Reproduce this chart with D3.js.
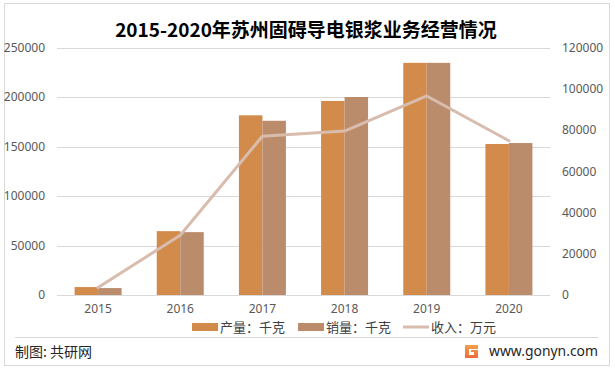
<!DOCTYPE html>
<html>
<head>
<meta charset="utf-8">
<script src="https://cdn.jsdelivr.net/npm/d3@7"></script>
<style>
  body { margin: 0; background: #fff; }
  svg { display: block; font-family: "Noto Sans CJK SC", "Noto Sans", sans-serif; }
</style>
</head>
<body>
<div id="chart"></div>
<script>
// data
const years = ["2015", "2016", "2017", "2018", "2019", "2020"];
const production = [8000, 64500, 181500, 196000, 234500, 152500];   // 产量：千克
const sales = [7000, 63500, 176000, 200000, 234500, 153500];         // 销量：千克
const revenue = [3600, 29000, 77000, 79500, 96500, 74800];           // 收入：万元
const leftTicks = [0, 50000, 100000, 150000, 200000, 250000];
const rightTicks = [0, 20000, 40000, 60000, 80000, 100000, 120000];

const W = 615, H = 371;
const plot = { left: 57, right: 550, top: 47.5, bottom: 295 };
const colors = { prod: "#d38b4c", sales: "#bb8c6c", line: "#d8bcad" };

const svg = d3.select("#chart").append("svg")
    .attr("width", W).attr("height", H);

// outer frame
svg.append("rect")
    .attr("x", 4.5).attr("y", 3.5)
    .attr("width", 605).attr("height", 362)
    .attr("fill", "#fff")
    .attr("stroke", "#d9d9d9");

const x = d3.scaleBand()
    .domain(years)
    .range([plot.left, plot.right])
    .paddingInner(0.428)
    .paddingOuter(0.214);

const xSub = d3.scaleBand()
    .domain(["prod", "sales"])
    .range([0, x.bandwidth()]);

const yLeft = d3.scaleLinear().domain([0, 250000]).range([plot.bottom, plot.top]);
const yRight = d3.scaleLinear().domain([0, 120000]).range([plot.bottom, plot.top]);

// gridlines
svg.append("g")
    .selectAll("line")
    .data(leftTicks)
    .join("line")
    .attr("x1", plot.left).attr("x2", plot.right)
    .attr("y1", (d) => Math.round(yLeft(d)) + 0.5)
    .attr("y2", (d) => Math.round(yLeft(d)) + 0.5)
    .attr("stroke", "#d9d9d9")
    .attr("stroke-width", 1);

// left axis
const leftAxis = svg.append("g")
    .attr("transform", `translate(${plot.left - 12},0)`)
    .call(d3.axisLeft(yLeft).tickValues(leftTicks).tickSize(0).tickPadding(0).tickFormat(d3.format("d")));
leftAxis.select(".domain").remove();
leftAxis.selectAll("text")
    .attr("fill", "#595959")
    .style("font-size", "12px")
    .style("font-family", "'Noto Sans', sans-serif");

// right axis
const rightAxis = svg.append("g")
    .attr("transform", `translate(${plot.right + 12},0)`)
    .call(d3.axisRight(yRight).tickValues(rightTicks).tickSize(0).tickPadding(0).tickFormat(d3.format("d")));
rightAxis.select(".domain").remove();
rightAxis.selectAll("text")
    .attr("fill", "#595959")
    .style("font-size", "12px")
    .style("font-family", "'Noto Sans', sans-serif");

// bottom axis labels
const bottomAxis = svg.append("g")
    .attr("transform", `translate(0,${plot.bottom})`)
    .call(d3.axisBottom(x).tickSize(0).tickPadding(9));
bottomAxis.select(".domain").remove();
bottomAxis.selectAll("text")
    .attr("fill", "#595959")
    .style("font-size", "12px")
    .style("font-family", "'Noto Sans', sans-serif");

// bars
const rows = years.map((y, i) => ({ year: y, prod: production[i], sales: sales[i] }));

svg.append("g")
    .selectAll("g")
    .data(rows)
    .join("g")
    .attr("transform", (d) => `translate(${x(d.year)},0)`)
    .selectAll("rect")
    .data((d) => [["prod", d.prod], ["sales", d.sales]])
    .join("rect")
    .attr("x", (d) => xSub(d[0]))
    .attr("width", xSub.bandwidth())
    .attr("y", (d) => yLeft(d[1]))
    .attr("height", (d) => plot.bottom - yLeft(d[1]))
    .attr("fill", (d) => colors[d[0]]);

// revenue line
const line = d3.line()
    .x((d, i) => x(years[i]) + x.bandwidth() / 2)
    .y((d) => yRight(d));

svg.append("path")
    .datum(revenue)
    .attr("d", line)
    .attr("fill", "none")
    .attr("stroke", colors.line)
    .attr("stroke-width", 3)
    .attr("stroke-linejoin", "round")
    .attr("stroke-linecap", "round");

// title
svg.append("text")
    .attr("x", 306).attr("y", 37)
    .attr("text-anchor", "middle")
    .attr("font-size", "19px")
    .attr("font-weight", "bold")
    .attr("fill", "#000")
    .text("2015-2020年苏州固碍导电银浆业务经营情况");

// legend
const legendItems = [
    { label: "产量：千克", color: colors.prod, type: "rect", x: 192 },
    { label: "销量：千克", color: colors.sales, type: "rect", x: 298 },
    { label: "收入：万元", color: colors.line, type: "line", x: 403 },
];
const lg = svg.append("g").attr("transform", "translate(0,327)");
legendItems.forEach((it) => {
    if (it.type === "rect") {
        lg.append("rect")
            .attr("x", it.x).attr("y", -4)
            .attr("width", 26).attr("height", 8)
            .attr("fill", it.color);
    } else {
        lg.append("line")
            .attr("x1", it.x).attr("x2", it.x + 26)
            .attr("y1", 0).attr("y2", 0)
            .attr("stroke", it.color)
            .attr("stroke-width", 3);
    }
    lg.append("text")
        .attr("x", it.x + 28).attr("y", 0)
        .attr("dy", "0.35em")
        .attr("font-size", "13px")
        .attr("fill", "#404040")
        .text(it.label);
});

// footer separator
svg.append("line")
    .attr("x1", 15).attr("x2", 598)
    .attr("y1", 337.5).attr("y2", 337.5)
    .attr("stroke", "#d9d9d9");

svg.append("text")
    .attr("x", 15).attr("y", 352)
    .attr("dy", "0.35em")
    .attr("font-size", "14px")
    .attr("fill", "#262626")
    .text("制图: 共研网");

// logo
const grad = svg.append("defs").append("linearGradient")
    .attr("id", "logoGrad")
    .attr("x1", "0").attr("y1", "0").attr("x2", "0").attr("y2", "1");
grad.append("stop").attr("offset", "0").attr("stop-color", "#f5a04a");
grad.append("stop").attr("offset", "1").attr("stop-color", "#f06a3a");

const logo = svg.append("g").attr("transform", "translate(465,345)");
logo.append("path")
    .attr("d", "M0,0 H13 V4 H4 V10 H9 V7 H6 V5 H13 V13 H0 Z")
    .attr("fill", "url(#logoGrad)");

svg.append("text")
    .attr("x", 489).attr("y", 351)
    .attr("dy", "0.35em")
    .attr("font-size", "14px")
    .attr("fill", "#262626")
    .attr("textLength", 109)
    .attr("lengthAdjust", "spacingAndGlyphs")
    .style("font-family", "'Noto Sans', sans-serif")
    .text("www.gonyn.com");
</script>
</body>
</html>
